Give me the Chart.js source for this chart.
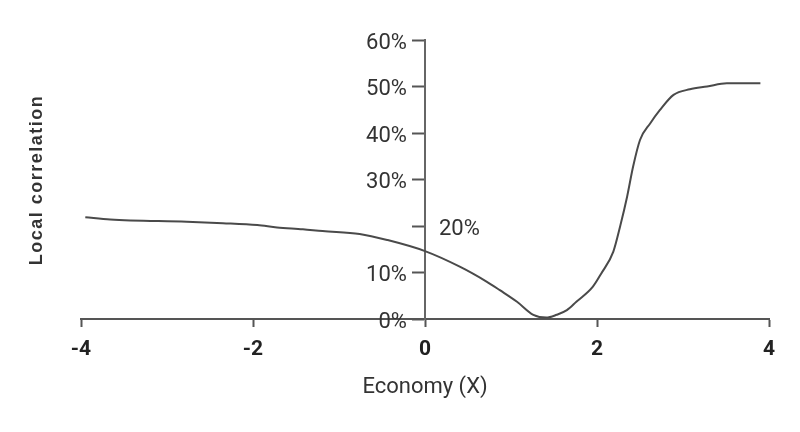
<!DOCTYPE html>
<html>
<head>
<meta charset="utf-8">
<script src="https://cdn.jsdelivr.net/npm/chart.js@4/dist/chart.umd.min.js"></script>
<style>
  html, body { margin: 0; padding: 0; background: #fff; }
  #wrap { width: 800px; height: 432px; }
</style>
</head>
<body>
<div id="wrap"><canvas id="chart"></canvas></div>
<script>
// valores
const economyX = [-3.95, -3.66, -2.77, -2.35, -1.95, -1.72, -1.42, -1.19, -0.76, -0.44, 0, 0.41, 0.72, 0.87, 1.07, 1.26, 1.41, 1.53, 1.65, 1.76, 1.95, 2.05, 2.19, 2.27, 2.35, 2.42, 2.50, 2.62, 2.73, 2.89, 3.08, 3.28, 3.51, 3.90];
const localCorr = [21.9, 21.4, 20.9, 20.6, 20.2, 19.7, 19.3, 18.9, 18.3, 17.0, 14.6, 11.2, 8.0, 6.2, 3.7, 0.9, 0.3, 0.9, 1.9, 3.7, 6.9, 9.8, 14.5, 20.0, 26.3, 32.8, 38.5, 42.1, 44.9, 48.2, 49.4, 50.0, 50.7, 50.7];
const xTicks = [-4, -2, 0, 2, 4];
const yTicks = [0, 10, 20, 30, 40, 50, 60];
const movedLabel = 20;   // la etiqueta de 20% esta a la derecha del eje
const xTitle = 'Economy (X)';
const yTitle = 'Local correlation';

const points = economyX.map((x, i) => ({ x: x, y: localCorr[i] }));

// textos extra: titulo vertical y la etiqueta 20% desplazada
const extraText = {
  id: 'extraText',
  afterDraw(c) {
    const ctx = c.ctx;
    const ys = c.scales.y;
    const xs = c.scales.x;
    ctx.save();
    ctx.fillStyle = '#333';
    ctx.font = '22px Roboto';
    ctx.textAlign = 'left';
    ctx.textBaseline = 'middle';
    ctx.fillText(movedLabel + '%', xs.getPixelForValue(0) + 14, ys.getPixelForValue(movedLabel) + 3);

    ctx.translate(37, 180);
    ctx.rotate(-Math.PI / 2);
    ctx.font = 'bold 18px "Liberation Sans"';
    ctx.letterSpacing = '1.5px';
    ctx.textAlign = 'center';
    ctx.fillText(yTitle, 0, 0);
    ctx.restore();
  }
};

const yBase = {
  type: 'linear',
  min: 0, max: 60,
  afterBuildTicks: s => { s.ticks = yTicks.map(v => ({ value: v })); },
  afterFit: s => { s.width = 0; }
};

new Chart(document.getElementById('chart'), {
  type: 'scatter',
  data: {
    datasets: [{
      data: points,
      showLine: true,
      borderColor: '#4a4a4a',
      borderWidth: 2,
      pointRadius: 0,
      cubicInterpolationMode: 'monotone'
    }]
  },
  options: {
    responsive: true,
    maintainAspectRatio: false,
    animation: false,
    layout: { padding: { left: 81, right: 31, top: 40, bottom: 0 } },
    plugins: { legend: { display: false }, tooltip: { enabled: false } },
    scales: {
      x: {
        type: 'linear',
        position: 'bottom',
        min: -4, max: 4,
        afterBuildTicks: s => { s.ticks = xTicks.map(v => ({ value: v })); },
        afterFit: s => { s.height = 113; },
        grid: { drawOnChartArea: false, tickLength: 8, tickColor: '#555', tickWidth: 2 },
        border: { color: '#555', width: 2 },
        ticks: {
          color: '#222',
          padding: 10,
          maxRotation: 0,
          font: { family: 'Roboto', size: 21, weight: 'bold' }
        },
        title: {
          display: true,
          text: xTitle,
          color: '#333',
          padding: { top: 0, bottom: 31 },
          font: { family: 'Roboto', size: 22 }
        }
      },
      // eje vertical en x = 0, solo linea y marcas
      y: Object.assign({}, yBase, {
        position: { x: 0 },
        grid: { drawOnChartArea: false, tickLength: 12, tickColor: '#555', tickWidth: 2 },
        border: { color: '#666', width: 2 },
        ticks: { display: false }
      }),
      // etiquetas del eje vertical, un poco a la izquierda
      yLabels: Object.assign({}, yBase, {
        position: { x: -0.21 },
        grid: { display: false },
        border: { display: false },
        ticks: {
          color: '#333',
          labelOffset: 3,
          font: { family: 'Roboto', size: 22 },
          callback: v => v === movedLabel ? '' : v + '%'
        }
      })
    }
  },
  plugins: [extraText]
});
</script>
</body>
</html>
